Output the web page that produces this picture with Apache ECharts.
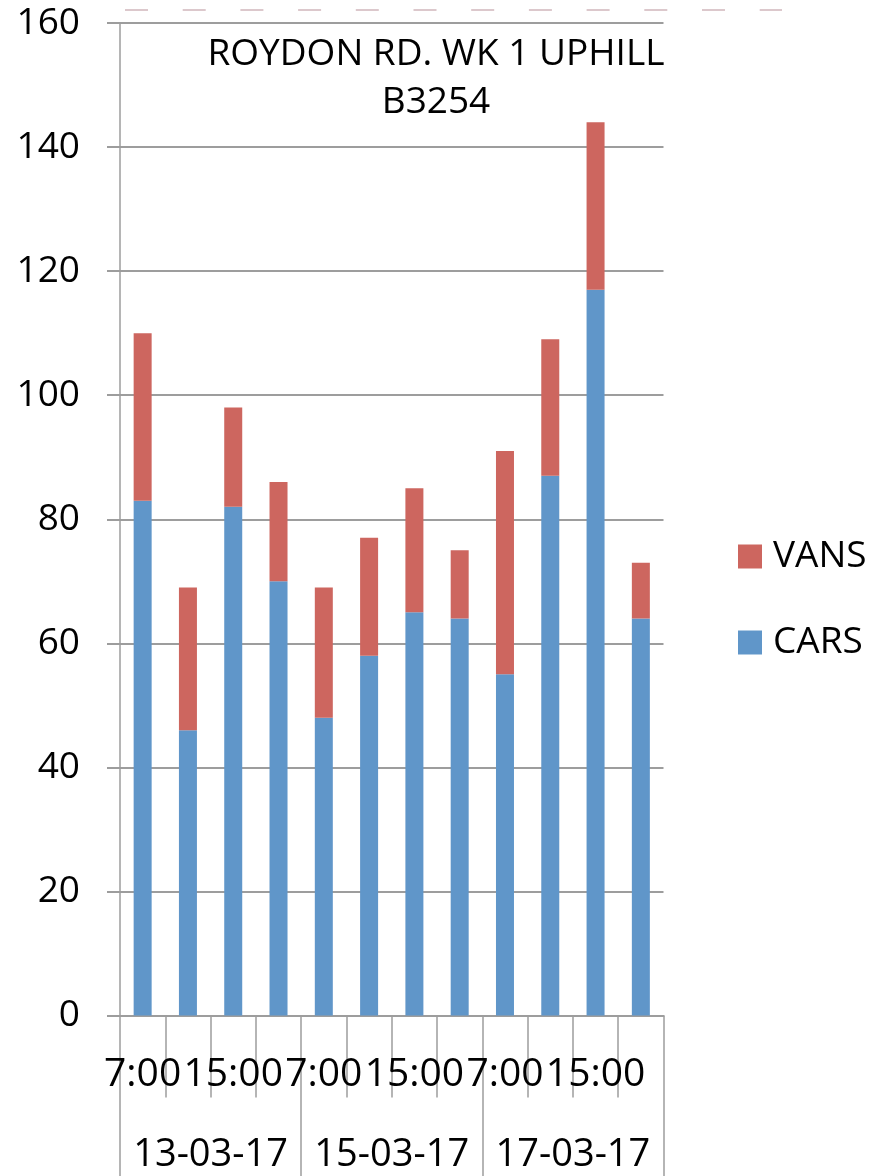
<!DOCTYPE html>
<html>
<head>
<meta charset="utf-8">
<script src="https://cdn.jsdelivr.net/npm/echarts@6/dist/echarts.min.js"></script>
<style>
html,body{margin:0;padding:0;background:#fff;}
#chart{width:885px;height:1176px;}
</style>
</head>
<body>
<div id="chart"></div>
<script>
const times = ['7:00','8:00','15:00','16:00','7:00','8:00','15:00','16:00','7:00','8:00','15:00','16:00'];
const dates = ['13-03-17','15-03-17','17-03-17'];
const cars = [83, 46, 82, 70, 48, 58, 65, 64, 55, 87, 117, 64];
const vans = [27, 23, 16, 16, 21, 19, 20, 11, 36, 22, 27, 9];
const titleLines = ['ROYDON RD. WK 1 UPHILL', 'B3254'];

const FONT = '"Open Sans", "Noto Sans", sans-serif';
const GRAY = '#9d9d9d';

const chart = echarts.init(document.getElementById('chart'), null, {renderer: 'canvas'});
chart.setOption({
  animation: false,
  backgroundColor: '#ffffff',
  textStyle: {fontFamily: FONT},
  grid: {left: 120, right: 221.5, top: 20.7, bottom: 160.5, containLabel: false},
  graphic: [
    {
      type: 'line', silent: true,
      shape: {x1: 125, y1: 10, x2: 782, y2: 10},
      style: {stroke: '#dcc8cc', lineWidth: 2, lineDash: [23, 34.7]}
    },
    {
      type: 'text', silent: true,
      style: {
        text: titleLines.join('\n'),
        x: 436, y: 78,
        textAlign: 'center', textVerticalAlign: 'middle',
        font: '37px ' + FONT, lineHeight: 48, fill: '#000'
      }
    }
  ],
  legend: {
    orient: 'vertical', left: 738, top: 538, padding: 0,
    data: ['VANS', 'CARS'],
    icon: 'rect', itemWidth: 24, itemHeight: 24, itemGap: 49,
    textStyle: {fontSize: 37, lineHeight: 24, color: '#000', fontFamily: FONT, padding: [0, 0, 0, 6]}
  },
  xAxis: [
    {
      type: 'category', data: times, position: 'bottom',
      axisLine: {show: true, lineStyle: {color: GRAY, width: 2}},
      axisTick: {show: true, interval: 0, length: 82, lineStyle: {color: GRAY, width: 1.5}},
      axisLabel: {interval: 1, fontSize: 39, color: '#000', margin: 40, fontFamily: FONT, lineHeight: 39}
    },
    {
      type: 'category', data: dates, position: 'bottom',
      axisLine: {show: false},
      axisTick: {show: true, interval: 0, length: 162, lineStyle: {color: GRAY, width: 1.5}},
      axisLabel: {interval: 0, fontSize: 38, color: '#000', margin: 121, fontFamily: FONT, lineHeight: 38}
    }
  ],
  yAxis: {
    type: 'value', min: 0, max: 160, interval: 20,
    axisLine: {show: true, lineStyle: {color: GRAY, width: 1.5}},
    axisTick: {show: true, length: 13, lineStyle: {color: GRAY, width: 2}},
    axisLabel: {fontSize: 37, color: '#000', margin: 40, fontFamily: FONT, lineHeight: 37, padding: [9, 0, 0, 0]},
    splitLine: {show: true, lineStyle: {color: GRAY, width: 2}}
  },
  series: [
    {
      name: 'CARS', type: 'bar', stack: 'total', data: cars,
      xAxisIndex: 0, barWidth: 18,
      itemStyle: {color: '#6096c9'}
    },
    {
      name: 'VANS', type: 'bar', stack: 'total', data: vans,
      xAxisIndex: 0, barWidth: 18,
      itemStyle: {color: '#cd665f'}
    }
  ]
});
</script>
</body>
</html>
